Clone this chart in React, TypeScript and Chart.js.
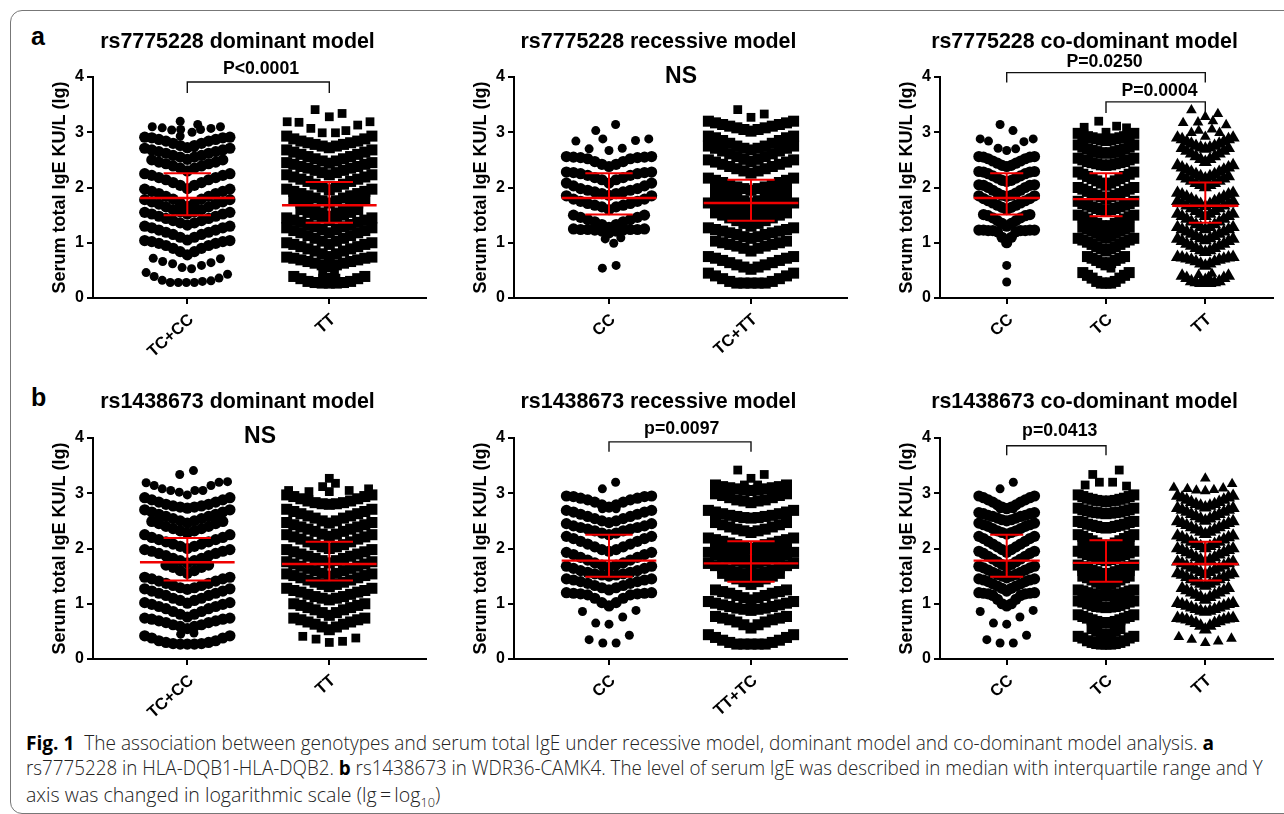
import React, { useEffect, useRef, useLayoutEffect } from "react";
import { Chart, registerables } from "chart.js";
Chart.register(...registerables);

// Values are lg(IgE) x 100. Each band lists one swarm row from its outer edge to its centre (mirrored).
// "Loose" entries are [swarm slot, value] for dots that stand apart.
const a1TcccBands = [[291,290,287,284,280,276,272],[271,268,265,262,258,255,251],[250,246,243,239,235,230],[225,222,218,214,209,204,198],[197,193,189,184,179,172,166],[178,174,170,165,160,156,152],[155,152,148,144,140,136,132],[130,127,123,119,115,110,105],[104,102,99,95,90,84,78]];
const a1TcccLoose = [[-7.2,72],[-5.2,66],[-3.1,62],[-1.1,55],[0.9,53],[3,59],[5,64],[7,71],[-8.7,46],[-7,39],[-5.3,32],[-3.6,28],[-1.9,28],[-0.2,28],[1.5,28],[3.2,30],[5,31],[6.7,36],[8.5,43],[-7.4,310],[-5.3,308],[-3.3,304],[-1.4,305],[-1.5,320],[2.2,314],[1,300],[2.8,305],[5,307],[7,310],[-1.5,293],[-1.4,276],[1.5,272]];
const a1TtBands = [[293,288,284,281,278,275,272],[268,264,260,256,252,248,244],[245,242,238,235,231,227,223],[223,219,215,211,206,201,196],[197,193,189,185,181,176,172],[178,172,166,160,154,148],[160,155,150,145,140],[145,141,137,133,129,124,118],[127,122,118,113,108,103,97],[100,97,93,89,85,80,75],[74,72,69,66,63,60,57],[39,35,30,28,27,27]];
const a1TtLoose = [[-3,341],[0,328],[2.7,334],[-8.9,319],[-6.4,318],[-3.9,307],[-1.5,299],[1.3,299],[3.5,303],[6,313],[8.6,319],[-1.4,44],[1.1,44],[0,38],[-1.4,36],[1.4,36]];

const a2CcBands = [[256,255,254,252,247,242,238],[228,227,225,222,218,214,208],[208,203,198,195,192,189,186],[185,179,175,171,168,165,160],[150,146,142,138,133,128],[125,124,124,123,121,118]];
const a2CcLoose = [[1.4,314],[-2.8,303],[-1.3,288],[-7,284],[8.4,288],[5.6,285],[-4.2,270],[0,267],[2.8,271],[-0.8,107],[1,99],[2.5,109],[-1.4,54],[1.5,59]];
const a2TcttBands = [[320,317,314,311,308,305,302],[293,290,285,280,275,271,268],[275,271,266,261,256,251,247],[250,246,242,238,234,230,226],[217,213,209,205,201,198,195],[199,193,188,182,176,172],[185,180,175,170,165,160],[172,168,164,160,156,152,150],[154,150,145,140,135,130],[127,124,121,118,115,111,108],[103,100,97,94,90,85],[75,72,68,64,60,56,52],[45,40,35,30,27,27,27]];
const a2TcttLoose = [[-2.8,341],[0,327],[2.8,333]];

const a3CcBands = [[256,255,252,248,244,240,238],[229,228,225,221,217,213,211],[205,204,200,195,190,186,184],[185,180,176,172,168,164,160],[151,149,145,140,135,130],[123,123,122,122,120,110,100]];
const a3CcLoose = [[-2,314],[1.9,303],[-8,288],[-5.5,284],[8,288],[5.2,283],[-2.6,271],[0,267],[2.7,270],[0,59],[0,29]];
const a3TcBands = [[298,295,292,290,288,286,285],[277,273,270,267,265,263,262],[253,250,247,245,243,241,240],[228,224,220,216,212,208,204],[200,197,193,189,186,183,180],[175,171,168,165,162,160,158],[150,147,143,139,135,131,128],[128,125,121,117,113,109],[108,105,101,97,93,89,85],[75,72,68,64,60],[46,41,36,30,27,27]];
const a3TcLoose = [[-2.2,320],[-6.6,309],[3.2,311],[6.2,308],[0,300],[1.5,54],[0,60],[-1,65],[1,60]];
const a3TtBands = [[290,287,283,279,275,272,270],[271,266,261,256,251,246],[240,236,232,228,224,220,216],[220,216,212,208,204,200],[190,187,183,179,175,170,166],[175,171,167,162,157,152,148],[152,148,143,138,133,128,124],[128,124,120,116,112,108,104],[107,103,98,94,90,86,83],[74,73,71,69,66,62,58],[40,36,30,28,27,27]];
const a3TtLoose = [[-4.2,340],[3.8,333],[-6.7,317],[-2.2,318],[0,328],[2.3,320],[6.3,313],[-4.2,299],[-2,303],[0,292],[4.3,299],[2,305],[-2,42],[2,44],[0,35],[1,38]];

const b1TcccBands = [[292,288,284,280,277,275,273],[270,266,262,258,254,250,246],[249,245,240,236,232,228],[225,220,216,212,208,204,200],[198,195,191,187,182,178,174],[170,166,160,155],[148,145,141,137,133,129,126],[127,123,119,115,110,106,101],[102,99,95,91,86,81,76],[74,72,69,66,62,59,55],[42,38,33,30,28,27,27]];
const b1TcccLoose = [[1.3,341],[-1.6,334],[-8.7,319],[-7,314],[-5.3,308],[-3.5,305],[-1.7,302],[0,297],[1.6,305],[3.3,305],[5,314],[6.7,320],[8.5,321],[-1.4,45],[1.4,47]];
const b1TtBands = [[297,294,290,286,283,281,280],[271,267,263,259,255,250,246],[247,243,239,235,231,226,222],[225,221,217,212,207,203,200],[198,194,190,186,182,178,174],[176,172,168,164,160,155,150],[154,151,147,143,139,135,131],[128,124,121,117,113,110,107],[100,97,93,89,84,79],[74,71,67,63,58,53]];
const b1TtLoose = [[0,327],[-1.4,312],[1.3,318],[0,303],[-8.6,305],[-4.3,303],[4.2,305],[8.3,308],[-5.6,41],[-2.8,36],[0,30],[2.8,32],[5.6,38]];

const b2CcBands = [[295,294,291,288,284,279,275],[269,266,262,258,254,250,247],[245,241,238,235,232,228,225],[222,218,213,208,203,198,195],[193,189,184,179,174,170,166],[168,164,160,157,154,152,150],[145,143,140,137,133,129,125],[120,119,118,116,110,102,96]];
const b2CcLoose = [[1.4,320],[-1.4,308],[-5.6,86],[5.7,88],[2.9,76],[-2.8,65],[0,63],[-4.2,35],[-1.3,29],[1.5,29],[4.3,43],[-1.4,272],[1.5,272]];
const b2TttcBands = [[315,312,310,308,306,305],[299,296,292,288,286,283],[269,266,263,260,258,256,255],[247,243,239,235,232,229],[219,216,213,210,207,203,200],[205,200,195,190,185,180],[193,189,185,181,177,173,168],[173,169,165,161,157,153,150],[165,160,155,150,145],[155,150,145,140,135],[125,122,119,115,111,107],[104,101,98,95,92,90,88],[77,74,71,67,62,56],[44,39,34,30,27,27,27]];
const b2TttcLoose = [[-2.8,342],[0,327],[2.8,334],[-1.4,315],[1.4,315]];

const b3CcBands = [[295,292,288,284,279,275,272],[265,263,260,258,255,252,250],[246,243,240,236,232,229,226],[222,218,213,208,203,198,193],[195,191,186,181,176,171,167],[168,165,161,157,153,150,147],[145,143,140,136,132,128,123],[120,119,118,115,108,100,96]];
const b3CcLoose = [[2,320],[-2,308],[-8,86],[8,88],[4,76],[-4,65],[0,63],[-6,35],[-2,29],[2,29],[6,43],[-2,272],[2,272]];
const b3TcBands = [[297,294,291,289,287,286,285],[273,270,268,266,265,264,263],[249,247,244,242,240,238,237],[225,222,218,214,210,206,203],[210,205,200,195,190,185],[195,192,189,186,183,180,178],[170,167,164,161,158,155,152],[160,155,150,146,142,138],[150,147,143,139,135,131],[125,123,120,118,116,115,114],[105,103,100,97,95,94,93],[80,77,74,71,68,66,65],[55,50,45,40],[41,38,33,30,28,27,27]];
const b3TcLoose = [[-4,334],[4,342],[-2,320],[2,320],[-6.3,315],[6.2,313]];
const b3TtBands = [[295,292,288,284,280,277,274],[273,270,266,262,258,254,250],[249,246,242,238,234,230,226],[223,220,216,212,208,204,200],[200,197,193,189,184,180,176],[176,173,169,165,161,157,153],[155,152,148,144,140,136,132],[128,124,120,116,112,107],[101,99,96,93,90,87,85],[74,73,71,68,65,60,53]];
const b3TtLoose = [[0,327],[8.1,317],[-9.5,310],[-5.4,308],[-2.7,305],[0,304],[2.6,306],[5.4,309],[-8,40],[-4.1,35],[0,29],[3.9,32],[7.9,37]];

// median, first quartile, third quartile for each genotype
const a1Stats = [[181,150,226],[168,136,210]];
const a2Stats = [[181,151,226],[172,140,214]];
const a3Stats = [[181,151,226],[179,148,226],[167,136,209]];
const b1Stats = [[175,142,219],[172,142,212]];
const b2Stats = [[178,149,225],[173,140,213]];
const b3Stats = [[178,149,225],[174,140,215],[172,142,212]];

const FONT = "'Liberation Sans', Arial, sans-serif";
const RED = "#f00000";

type Group = { name: string; shape: string; bands: number[][]; loose: number[][]; };
type Bracket = { from: number; to: number; top: number; foot: number };
type Note = { text: string; x: number; y: number; size: number };
type PanelSpec = {
  title: string; titleCx: number; top: number; plotTop: number; plotBottom: number;
  plotLeft: number; plotRight: number; ticks: number[]; groups: Group[]; stats: number[][];
  brackets: Bracket[]; notes: Note[]; step: number;
};

const C = "circle", S = "rect", T = "triangle";
const R_A = { top: 29, plotTop: 77, plotBottom: 298 };
const R_B = { top: 389, plotTop: 438, plotBottom: 659 };

const panels: PanelSpec[] = [
  { ...R_A, title: "rs7775228 dominant model", titleCx: 258, plotLeft: 93, plotRight: 426, ticks: [187.3, 329.3], step: 1.5, stats: a1Stats,
    groups: [{ name: "TC+CC", shape: C, bands: a1TcccBands, loose: a1TcccLoose }, { name: "TT", shape: S, bands: a1TtBands, loose: a1TtLoose }],
    brackets: [{ from: 0, to: 1, top: 3.91, foot: 3.71 }], notes: [{ text: "P<0.0001", x: 261, y: 69, size: 17.7 }] },
  { ...R_A, title: "rs7775228 recessive model", titleCx: 680, plotLeft: 514, plotRight: 847, ticks: [609, 751], step: 1.5, stats: a2Stats,
    groups: [{ name: "CC", shape: C, bands: a2CcBands, loose: a2CcLoose }, { name: "TC+TT", shape: S, bands: a2TcttBands, loose: a2TcttLoose }],
    brackets: [], notes: [{ text: "NS", x: 681, y: 77, size: 23 }] },
  { ...R_A, title: "rs7775228 co-dominant model", titleCx: 1106, plotLeft: 940, plotRight: 1273, ticks: [1006.7, 1106, 1205.3], step: 1.4, stats: a3Stats,
    groups: [{ name: "CC", shape: C, bands: a3CcBands, loose: a3CcLoose }, { name: "TC", shape: S, bands: a3TcBands, loose: a3TcLoose }, { name: "TT", shape: T, bands: a3TtBands, loose: a3TtLoose }],
    brackets: [{ from: 0, to: 2, top: 4.08, foot: 3.9 }, { from: 1, to: 2, top: 3.55, foot: 3.35 }],
    notes: [{ text: "P=0.0250", x: 1104.5, y: 62, size: 17.7 }, { text: "P=0.0004", x: 1159.5, y: 91, size: 17.7 }] },
  { ...R_B, title: "rs1438673 dominant model", titleCx: 258, plotLeft: 93, plotRight: 426, ticks: [187.3, 329.3], step: 1.5, stats: b1Stats,
    groups: [{ name: "TC+CC", shape: C, bands: b1TcccBands, loose: b1TcccLoose }, { name: "TT", shape: S, bands: b1TtBands, loose: b1TtLoose }],
    brackets: [], notes: [{ text: "NS", x: 260, y: 437, size: 23 }] },
  { ...R_B, title: "rs1438673 recessive model", titleCx: 680, plotLeft: 514, plotRight: 847, ticks: [609, 751], step: 1.5, stats: b2Stats,
    groups: [{ name: "CC", shape: C, bands: b2CcBands, loose: b2CcLoose }, { name: "TT+TC", shape: S, bands: b2TttcBands, loose: b2TttcLoose }],
    brackets: [{ from: 0, to: 1, top: 3.93, foot: 3.75 }], notes: [{ text: "p=0.0097", x: 681.7, y: 429, size: 17.7 }] },
  { ...R_B, title: "rs1438673 co-dominant model", titleCx: 1106, plotLeft: 940, plotRight: 1273, ticks: [1006.7, 1106, 1205.3], step: 1.4, stats: b3Stats,
    groups: [{ name: "CC", shape: C, bands: b3CcBands, loose: b3CcLoose }, { name: "TC", shape: S, bands: b3TcBands, loose: b3TcLoose }, { name: "TT", shape: T, bands: b3TtBands, loose: b3TtLoose }],
    brackets: [{ from: 0, to: 1, top: 3.86, foot: 3.69 }], notes: [{ text: "p=0.0413", x: 1059.7, y: 431, size: 17.7 }] },
];

const SLOTS = 30;
// Bands overlap into thick ribbons in the reference, so their marks are drawn larger than lone dots.
const LOOSE_R: Record<string, number> = { circle: 4.5, rect: 6.2, triangle: 6.2 };
const BAND_R: Record<string, number> = { circle: 5.6, rect: 7.8, triangle: 7.6 };

function bandPoints(g: Group, idx: number, step: number) {
  const pts: { x: number; y: number }[] = [];
  g.bands.forEach((row) => {
    row.forEach((v, i) => {
      const slot = (row.length - 1 - i) * step;
      pts.push({ x: idx + slot / SLOTS, y: v / 100 });
      if (slot > 0) pts.push({ x: idx - slot / SLOTS, y: v / 100 });
    });
  });
  return pts;
}
const loosePoints = (g: Group, idx: number) => g.loose.map(([slot, v]) => ({ x: idx + slot / SLOTS, y: v / 100 }));

function Panel({ spec }: { spec: PanelSpec }) {
  const ref = useRef<HTMLCanvasElement>(null);
  const yWidth = 44, xHeight = 62;
  const left = spec.plotLeft - yWidth;
  const width = 2 * (spec.titleCx - left);
  const height = spec.plotBottom + xHeight - spec.top;
  useEffect(() => {
    const gap = spec.ticks[1] - spec.ticks[0];
    const xMin = -(spec.ticks[0] - spec.plotLeft) / gap;
    const xMax = spec.ticks.length - 1 + (spec.plotRight - spec.ticks[spec.ticks.length - 1]) / gap;
    const line = (data: { x: number; y: number }[], color: string, w: number) => ({
      type: "scatter", showLine: true, data, borderColor: color, borderWidth: w,
      pointRadius: 0, clip: false, order: 0, tension: 0,
    });
    const reds: any[] = [];
    spec.stats.forEach(([m, q1, q3], i) => {
      const half = 10 / SLOTS, cap = 5 / SLOTS;
      reds.push(line([{ x: i - half, y: m / 100 }, { x: i + half, y: m / 100 }], RED, 2.4));
      reds.push(line([{ x: i, y: q1 / 100 }, { x: i, y: q3 / 100 }], RED, 2));
      reds.push(line([{ x: i - cap, y: q1 / 100 }, { x: i + cap, y: q1 / 100 }], RED, 2));
      reds.push(line([{ x: i - cap, y: q3 / 100 }, { x: i + cap, y: q3 / 100 }], RED, 2));
    });
    const brackets = spec.brackets.map((b) =>
      line([{ x: b.from, y: b.foot }, { x: b.from, y: b.top }, { x: b.to, y: b.top }, { x: b.to, y: b.foot }], "#111", 1.4));
    const dots: any[] = [];
    spec.groups.forEach((g, i) => {
      dots.push({ type: "scatter", label: g.name, data: bandPoints(g, i, spec.step), pointStyle: g.shape,
        pointRadius: BAND_R[g.shape], pointBackgroundColor: "#000", pointBorderWidth: 0, clip: false, order: 1 });
      dots.push({ type: "scatter", label: g.name, data: loosePoints(g, i), pointStyle: g.shape,
        pointRadius: LOOSE_R[g.shape], pointBackgroundColor: "#000", pointBorderWidth: 0, clip: false, order: 1 });
    });
    const notesPlugin = {
      id: "notes",
      afterDatasetsDraw(chart: any) {
        const ctx = chart.ctx;
        ctx.save();
        ctx.fillStyle = "#000";
        ctx.textAlign = "center";
        ctx.textBaseline = "middle";
        spec.notes.forEach((n) => {
          ctx.font = `bold ${n.size}px ${FONT}`;
          ctx.fillText(n.text, n.x - left, n.y - spec.top);
        });
        ctx.restore();
      },
    };
    const chart = new Chart(ref.current as HTMLCanvasElement, {
      type: "scatter",
      data: { datasets: [...reds, ...brackets, ...dots] as any },
      plugins: [notesPlugin],
      options: {
        animation: false, responsive: false, events: [],
        layout: { padding: { left: 0, top: 0, bottom: 0, right: width + left - spec.plotRight } },
        plugins: {
          legend: { display: false }, tooltip: { enabled: false },
          title: {
            display: true, text: spec.title, color: "#000",
            font: { family: FONT, size: 21.4, weight: "bold", lineHeight: 1.2 },
            padding: { top: 0, bottom: spec.plotTop - spec.top - 25.68 },
          },
        },
        scales: {
          x: {
            type: "linear", min: xMin, max: xMax, bounds: "data",
            afterBuildTicks: (s: any) => { s.ticks = spec.groups.map((_, i) => ({ value: i })); },
            afterFit: (s: any) => { s.height = xHeight; },
            grid: { drawOnChartArea: false, color: "#000", lineWidth: 2, tickLength: 6 },
            border: { color: "#000", width: 2 },
            ticks: {
              autoSkip: false, maxRotation: 42, minRotation: 42, color: "#000", padding: 6, labelOffset: 4,
              font: { family: FONT, size: 16.5, weight: "bold" },
              callback: (_: any, i: number) => spec.groups[i]?.name ?? "",
            },
          },
          y: {
            type: "linear", min: 0, max: 4,
            afterFit: (s: any) => { s.width = yWidth; },
            grid: { drawOnChartArea: false, color: "#000", lineWidth: 2, tickLength: 6 },
            border: { color: "#000", width: 2 },
            ticks: { stepSize: 1, color: "#000", padding: 3, font: { family: FONT, size: 16, weight: "bold" } },
            title: {
              display: true, text: "Serum total IgE KU/L (lg)", color: "#000", padding: 0,
              font: { family: FONT, size: 18, weight: "bold", lineHeight: 1.2 },
            },
          },
        },
      } as any,
    });
    return () => chart.destroy();
  }, []);
  return <canvas ref={ref} width={width} height={height} style={{ position: "absolute", left, top: spec.top, width, height }} />;
}

const capStyle: React.CSSProperties = {
  position: "absolute", left: 26, whiteSpace: "nowrap", fontFamily: "'Open Sans', sans-serif", fontWeight: 300,
  fontSize: 20, lineHeight: "26px", color: "#222", transformOrigin: "0 50%",
};
const Bold = ({ children }: { children: React.ReactNode }) => <b style={{ color: "#000", fontWeight: 700 }}>{children}</b>;

function CapLine({ y, target, children }: { y: number; target: number; children: React.ReactNode }) {
  const ref = useRef<HTMLDivElement>(null);
  useLayoutEffect(() => {
    const el = ref.current as HTMLDivElement;
    el.style.transform = `scaleX(${target / el.offsetWidth})`;
  }, []);
  return <div ref={ref} style={{ ...capStyle, top: y - 13 }}>{children}</div>;
}

export default function App() {
  return (
    <div style={{ position: "fixed", left: 0, top: 0, width: 1284, height: 814, overflow: "hidden", background: "#fff" }}>
      <div style={{ position: "absolute", left: 10, top: 10, width: 1320, height: 802, border: "1.5px solid #777", borderRadius: 12 }} />
      <div style={{ position: "absolute", left: 31, top: 22, font: `bold 25px ${FONT}`, color: "#000" }}>a</div>
      <div style={{ position: "absolute", left: 31, top: 383, font: `bold 25px ${FONT}`, color: "#000" }}>b</div>
      {panels.map((p) => <Panel key={p.title} spec={p} />)}
      <CapLine y={743} target={1188}><Bold>Fig. 1</Bold>{"\u00a0\u00a0The association between genotypes and serum total IgE under recessive model, dominant model and co-dominant model analysis. "}<Bold>a</Bold></CapLine>
      <CapLine y={768} target={1237}>rs7775228 in HLA-DQB1-HLA-DQB2. <Bold>b</Bold> rs1438673 in WDR36-CAMK4. The level of serum IgE was described in median with interquartile range and Y</CapLine>
      <CapLine y={795} target={414}>axis was changed in logarithmic scale (lg{"\u2009=\u2009"}log<sub style={{ fontSize: 13, lineHeight: 0 }}>10</sub>)</CapLine>
    </div>
  );
}
